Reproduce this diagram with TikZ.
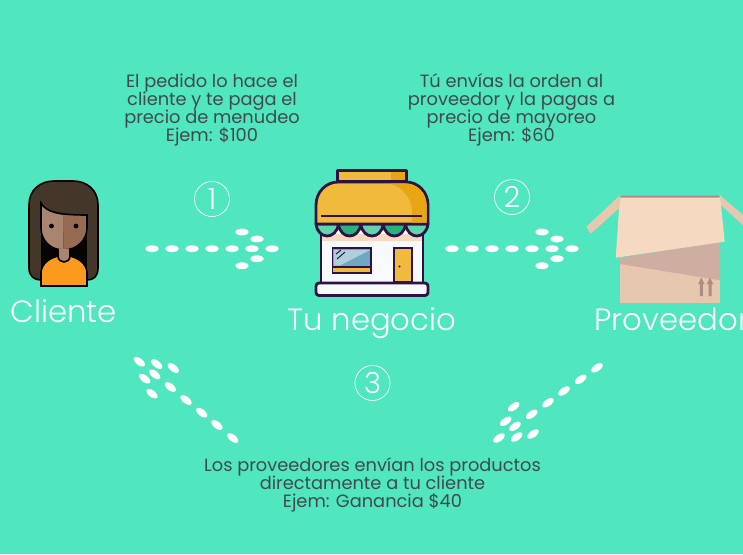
\documentclass[tikz,border=0pt]{standalone}
\usepackage{fontspec}
\setmainfont{Poppins}
\newfontfamily\thinfont{Poppins Light}
\setlength{\lineskiplimit}{-20pt}
\definecolor{fondo}{HTML}{50E6C0}
\definecolor{tinta}{HTML}{3F4B4B}
\definecolor{pelo}{HTML}{45362A}
\definecolor{pielA}{HTML}{A98570}
\definecolor{pielB}{HTML}{976A52}
\definecolor{blusa}{HTML}{FB9A1D}
\definecolor{marco}{HTML}{2D1245}
\definecolor{toldo}{HTML}{F0BB3C}
\definecolor{toldoB}{HTML}{E9A613}
\definecolor{franjaA}{HTML}{62D4AB}
\definecolor{franjaB}{HTML}{28B27F}
\definecolor{muro}{HTML}{F8F9FC}
\definecolor{vidrio}{HTML}{6FA8C2}
\definecolor{cajaA}{HTML}{F5DAC1}
\definecolor{cajaB}{HTML}{E8C7AF}
\definecolor{cajaC}{HTML}{CEAEA0}
\definecolor{cajaD}{HTML}{AB8D88}
\tikzset{
  nota/.style={text=tinta, align=center, font=\fontsize{17.8}{18}\selectfont},
  titulo/.style={text=white, anchor=base, font=\thinfont\fontsize{30.7}{32}\selectfont},
  numero/.style={draw=white, line width=0.7pt, circle, minimum size=35pt, inner sep=0pt, text=white, font=\thinfont\fontsize{29}{30}\selectfont},
  linea/.style={draw=marco, line width=2.8pt, line join=round}
}
\newcommand{\grano}[3]{\fill[white, shift={(#1,#2)}, rotate=#3] (0,0) ellipse (6.6 and 3.4);}
\begin{document}
\begin{tikzpicture}[x=1pt,y=-1pt]
\useasboundingbox (0,0) rectangle (743,554);
\fill[fondo] (0,0) rectangle (743,554);

% clienta
\draw[draw=black, fill=pelo, line width=1.6pt] (29,205) .. controls (29,190) and (40,181) .. (54,181) -- (73,181) .. controls (87,181) and (98,190) .. (98,205) -- (98,268) .. controls (98,276) and (94,280) .. (87,280) -- (41,280) .. controls (34,280) and (29,276) .. (29,268) -- cycle;
\fill[black!90!pelo] (41,232) rectangle (87,279);
\fill[pielA] (41,203) .. controls (46,211) and (54,214) .. (63.5,215) -- (63.5,250) .. controls (50,250) and (41,240) .. (41,228) -- cycle;
\fill[pielB] (63.5,215) -- (87,215) -- (87,228) .. controls (87,240) and (77,250) .. (63.5,250) -- cycle;
\draw[line width=1.6pt] (41,203) .. controls (46,212) and (58,215) .. (87,215) -- (87,228) .. controls (87,240) and (77,250) .. (63.5,250) .. controls (50,250) and (41,240) .. (41,228) -- cycle;
\fill (51.5,226) circle (2.4);
\fill (76,226) circle (2.4);
\draw[fill=blusa, line width=1.6pt] (41,286) -- (41,272) .. controls (42,263) and (50,258) .. (58,256) -- (70,256) .. controls (78,258) and (86,263) .. (87,272) -- (87,286) -- cycle;
\draw[fill=pielA, line width=1.6pt] (58,249) -- (58,256) .. controls (58,264) and (70,264) .. (70,256) -- (70,249);
\node[titulo] (cliente) at (63.5,322) {Cliente};

% tienda
\fill[muro] (321,230) rectangle (423,284);
\fill[cajaA] (321,234) rectangle (423,241);
\draw[linea] (321,232) -- (321,284) (423,232) -- (423,284);
\foreach \x/\c in {316/franjaA,338.4/franjaB,360.8/franjaA,383.2/franjaB,405.6/franjaA} {
  \draw[linea, fill=\c] (\x,224) .. controls (\x+2,240) and (\x+20.4,240) .. (\x+22.4,224) -- cycle;
}
\draw[linea, fill=toldo] (337.5,170.5) rectangle (406.5,181);
\fill[toldoB] (391,172) rectangle (405,180);
\draw[linea, fill=toldo] (316,224) -- (316,205) .. controls (316,192) and (326,182) .. (338,182) -- (406,182) .. controls (418,182) and (428,192) .. (428,205) -- (428,224) -- cycle;
\fill[toldoB] (390,183.5) -- (406,183.5) .. controls (417,183.5) and (426.6,193) .. (426.6,205) -- (426.6,222.6) -- (412,222.6) -- (412,212) .. controls (412,198) and (402,187) .. (390,183.5) -- cycle;
\draw[marco, line width=1.5pt] (321,216) -- (422,216);
\draw[marco, line width=1.5pt, fill=vidrio] (332.5,248) rectangle (371,273);
\fill[vidrio!55!white] (334,250) -- (370,250) -- (340,265.5) -- (334,265.5) -- cycle;
\draw[marco, line width=1.5pt, fill=toldo] (332.5,267) rectangle (371,273);
\draw[marco, line width=1pt] (336,254) -- (341,250) (337,259) -- (345,252);
\draw[marco, line width=1.5pt, fill=toldo] (394,248) rectangle (412,282);
\fill[marco] (399.5,266.5) circle (1.2);
\draw[linea, fill=muro, rounded corners=3pt] (316,283) rectangle (428,295.5);
\node[titulo] (negocio) at (372,330) {Tu negocio};

% caja
\fill[cajaB] (620,257) rectangle (720,303);
\fill[cajaC] (620,257.7) -- (720,242) -- (720,280.3) -- (620,264) -- cycle;
\fill[cajaB] (619.3,196) -- (619.3,208) -- (590.7,233.7) -- (586.3,226.7) -- cycle;
\fill[cajaB] (720,195.3) -- (743,215) -- (743,225) -- (720.7,205) -- cycle;
\fill[cajaA] (620,195.3) -- (720,195.3) -- (724.7,241.7) -- (615.7,257.7) -- cycle;
\fill[cajaD] (620.5,195.3) -- (719.5,195.3) -- (719.7,197.5) -- (620.3,197.5) -- cycle;
\foreach \x in {701.3,710} {
  \fill[cajaD] (\x-1.5,296) -- (\x-1.5,284) -- (\x-3.2,284) -- (\x,277.5) -- (\x+3.2,284) -- (\x+1.5,284) -- (\x+1.5,296) -- cycle;
}
\node[titulo, anchor=base west] (proveedor) at (591,330) {Proveedor};

% textos
\node[nota] (pedido) at (212,110) {El pedido lo hace el\\cliente y te paga el\\precio de menudeo\\Ejem: \$100};
\node[nota] (orden) at (511.5,110) {Tú envías la orden al\\proveedor y la pagas a\\precio de mayoreo\\Ejem: \$60};
\node[nota] (envio) at (372.5,485) {Los proveedores envían los productos\\directamente a tu cliente\\Ejem: Ganancia \$40};
\node[numero] (uno) at (212,199) {1};
\node[numero] (dos) at (512,197) {2};
\node[numero] (tres) at (372.5,383) {3};

% flechas de granos
\foreach \d in {0,300} {
  \foreach \x in {152,172,...,272} {
    \grano{\x+\d}{248.7}{0}
  }
  \foreach \x/\y in {242/232,257/239,257/258.7,242/265.7} {
    \grano{\x+\d}{\y}{0}
  }
}
\foreach \x/\y in {139.3/361.7,156.7/364,173.3/368,144.7/378.7,154.7/374.3,170.3/387,152/393.7,186/400,201.7/412.7,217/425,232.7/438} {
  \grano{\x}{\y}{-38}
}
\foreach \x/\y in {597/367.7,580.7/379.3,564/391,548/402.7,531.7/414.3,513.7/406.7,505.7/421.3,515/426.3,499/438,516.7/437,533/434} {
  \grano{\x}{\y}{35}
}
\end{tikzpicture}
\end{document}
